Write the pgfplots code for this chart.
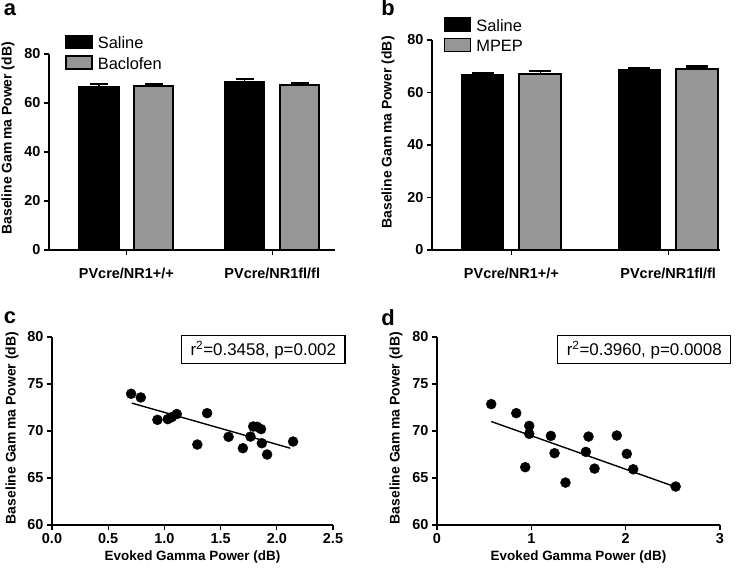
\documentclass[border=0pt]{standalone}
\usepackage{pgfplots}
\pgfplotsset{compat=1.18}
\usepackage{fontspec}
\setmainfont{Liberation Sans}
\definecolor{bargray}{RGB}{150,150,150}
\pgfplotsset{
  myaxis/.style={
    scale only axis,
    axis x line*=bottom, axis y line*=left,
    axis line style={-, line width=1.6pt},
    tick style={line width=1.4pt, black},
    tick align=outside, major tick length=5bp,
    /pgf/number format/assume math mode=true,
    tick label style={font=\bfseries\fontsize{14.5}{15}\selectfont},
    label style={font=\bfseries\fontsize{14}{14}\selectfont},
    clip=false,
  },
  barax/.style={
    myaxis,
    ymin=0, ymax=80, ytick={0,20,40,60,80},
    xtick={1,2}, xticklabels={PVcre/NR1+/+, PVcre/NR1fl/fl},
    xticklabel style={yshift=-10bp},
    ylabel={Baseline Gam\,ma Power (dB)},
    legend style={draw=none, fill=none, inner sep=0pt, row sep=4bp,
      font=\fontsize{16.5}{17}\selectfont, anchor=north west,
      nodes={inner xsep=5bp, inner ysep=1bp}},
    legend cell align=left,
  },
  mybar/.style={ybar, bar shift=0pt, draw=black, line width=1.8pt,
    /pgfplots/error bars/y dir=plus, /pgfplots/error bars/y explicit,
    /pgfplots/error bars/error bar style={line width=1.2pt, black},
    /pgfplots/error bars/error mark=|,
    /pgfplots/error bars/error mark options={line width=2.4pt, mark size=#1, black}},
  sqleg/.style={legend image code/.code={\draw[##1, line width=1.6pt] (0bp,-5bp) rectangle (26bp,8bp);}},
}
\begin{document}
\begin{tikzpicture}
\useasboundingbox (0,0) rectangle (750bp,-569bp);
% Panel a
\begin{axis}[barax, at={(49bp,-250bp)}, anchor=south west,
  width=286bp, height=196bp, xmin=0.47, xmax=2.43,
  ylabel style={at={(axis description cs:-0.143,0.57)}, anchor=center},
  legend style={at={(axis description cs:0.056,1.10)}}]
\addplot[mybar=9bp, fill=black, bar width=0.27, sqleg]
  coordinates {(0.8125,66.6) +- (0,1.1) (1.8125,68.7) +- (0,1.0)};
\addplot[mybar=9bp, fill=bargray, bar width=0.27, sqleg]
  coordinates {(1.1875,66.8) +- (0,0.9) (2.1875,67.35) +- (0,0.9)};
\legend{Saline, Baclofen}
\end{axis}
\node[font=\bfseries\fontsize{22}{22}\selectfont] at (10bp,-10bp) {a};
% Panel b
\begin{axis}[barax, at={(432bp,-250bp)}, anchor=south west,
  width=288bp, height=210bp, xmin=0.494, xmax=2.33,
  ylabel style={at={(axis description cs:-0.153,0.56)}, anchor=center},
  legend style={at={(axis description cs:0.04,1.11)}}]
\addplot[mybar=11bp, fill=black, bar width=0.266, sqleg]
  coordinates {(0.816,66.6) +- (0,0.9) (1.816,68.6) +- (0,0.7)};
\addplot[mybar=11bp, fill=bargray, bar width=0.266, sqleg]
  coordinates {(1.184,67.1) +- (0,1.0) (2.184,68.9) +- (0,1.0)};
\legend{Saline, MPEP}
\end{axis}
\node[font=\bfseries\fontsize{22}{22}\selectfont] at (388bp,-8bp) {b};
% Panel c
\begin{axis}[myaxis, at={(52bp,-525bp)}, anchor=south west,
  width=281bp, height=188bp, xmin=0, xmax=2.5, ymin=60, ymax=80,
  xtick={0,0.5,1,1.5,2,2.5}, ytick={60,65,70,75,80},
  xticklabel style={/pgf/number format/.cd, fixed, fixed zerofill, precision=1},
  xlabel={Evoked Gamma Power (dB)}, ylabel={Baseline Gam\,ma Power (dB)},
  xlabel style={font=\bfseries\fontsize{13.5}{14}\selectfont, at={(axis description cs:0.5,-0.17)}, anchor=center},
  ylabel style={at={(axis description cs:-0.142,0.516)}, anchor=center}]
\addplot[only marks, mark=*, mark size=5bp, black] coordinates {
 (0.704,73.96) (0.79,73.57) (0.938,71.19) (1.03,71.26) (1.065,71.47) (1.11,71.8)
 (1.293,68.56) (1.38,71.9) (1.571,69.38) (1.698,68.17) (1.766,69.41) (1.79,70.48)
 (1.825,70.45) (1.86,70.2) (1.867,68.7) (1.914,67.5) (2.145,68.88)};
\addplot[black, line width=1.4pt] coordinates {(0.71,72.97) (2.12,68.17)};
\node[draw=black, line width=1.2pt, inner xsep=9bp, inner ysep=5bp, font=\fontsize{17}{17}\selectfont, anchor=north east]
  at (rel axis cs:1.045,1.01) {r\textsuperscript{2}=0.3458, p=0.002};
\end{axis}
\node[font=\bfseries\fontsize{22}{22}\selectfont] at (10bp,-318bp) {c};
% Panel d
\begin{axis}[myaxis, at={(437bp,-525bp)}, anchor=south west,
  width=283bp, height=188bp, xmin=0, xmax=3, ymin=60, ymax=80,
  xtick={0,1,2,3}, ytick={60,65,70,75,80},
  xlabel={Evoked Gamma Power (dB)}, ylabel={Baseline Gam\,ma Power (dB)},
  xlabel style={font=\bfseries\fontsize{13.5}{14}\selectfont, at={(axis description cs:0.5,-0.17)}, anchor=center},
  ylabel style={at={(axis description cs:-0.145,0.516)}, anchor=center}]
\addplot[only marks, mark=*, mark size=5bp, black] coordinates {
 (0.575,72.86) (0.84,71.9) (0.978,70.55) (0.978,69.7) (0.935,66.15) (1.207,69.48)
 (1.246,67.64) (1.362,64.51) (1.578,67.78) (1.606,69.41) (1.67,66.0) (1.906,69.52)
 (2.012,67.57) (2.08,65.93) (2.53,64.09)};
\addplot[black, line width=1.4pt] coordinates {(0.575,71.01) (2.54,64.01)};
\node[draw=black, line width=1.2pt, inner xsep=9bp, inner ysep=5bp, font=\fontsize{17}{17}\selectfont, anchor=north east]
  at (rel axis cs:1.04,1.01) {r\textsuperscript{2}=0.3960, p=0.0008};
\end{axis}
\node[font=\bfseries\fontsize{22}{22}\selectfont] at (388bp,-318bp) {d};
\end{tikzpicture}
\end{document}
